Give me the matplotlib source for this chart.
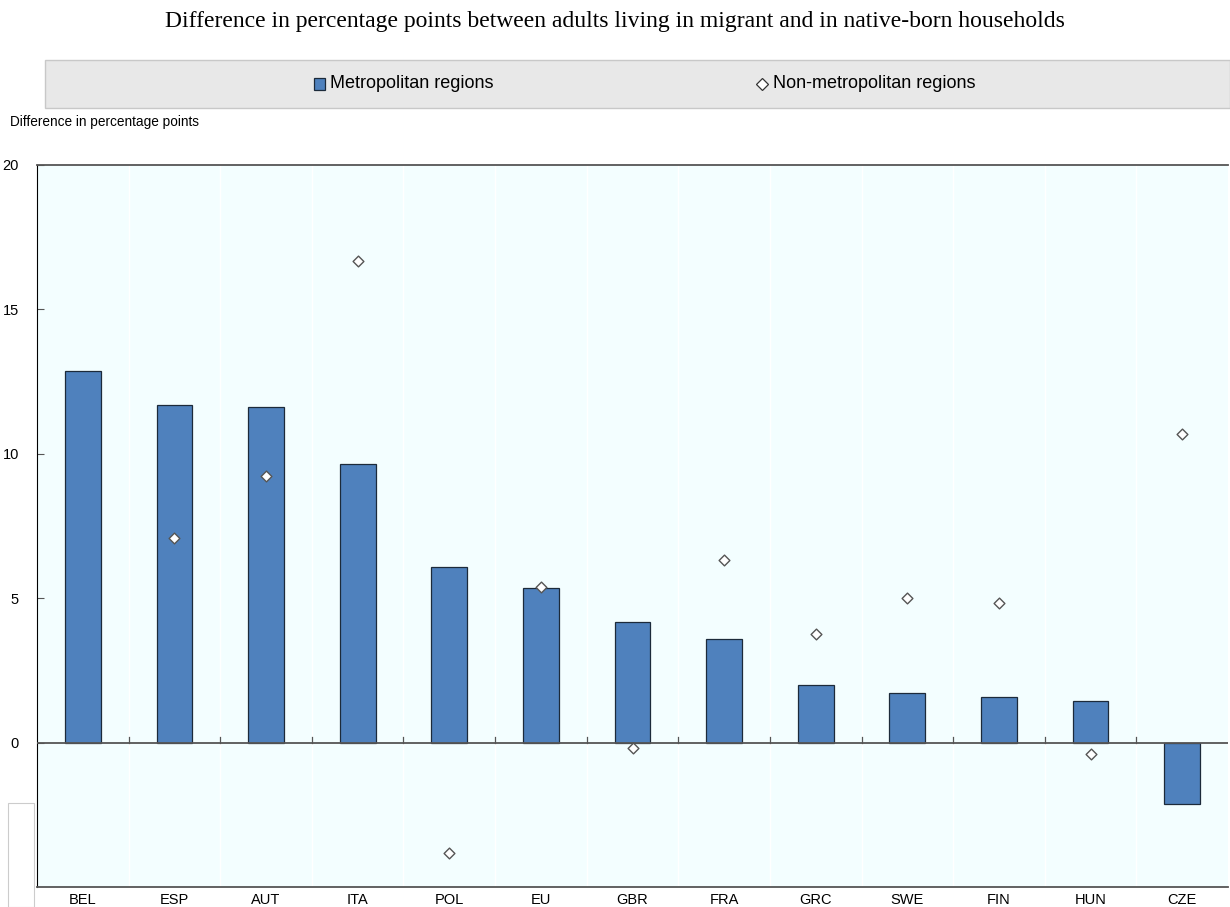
import matplotlib.pyplot as plt
from matplotlib.patches import Rectangle
import numpy as np

countries = ["BEL", "ESP", "AUT", "ITA", "POL", "EU", "GBR", "FRA", "GRC", "SWE", "FIN", "HUN", "CZE"]
metro = [12.87, 11.70, 11.63, 9.65, 6.09, 5.36, 4.19, 3.60, 2.01, 1.73, 1.59, 1.45, -2.11]
non_metro = [np.nan, 7.09, 9.24, 16.68, -3.81, 5.40, -0.17, 6.33, 3.77, 5.02, 4.84, -0.38, 10.69]
yticks = [0, 5, 10, 15, 20]

sans = ["Liberation Sans", "DejaVu Sans"]

fig = plt.figure(figsize=(12.3, 9.07), dpi=100)
ax = fig.add_axes([37 / 1230, 1 - 887 / 907, 1191 / 1230, 722 / 907])
ax.set_facecolor("#f3feff")

x = np.arange(len(countries))
ax.bar(x, metro, width=0.39, color="#4f81bd", edgecolor="#1c2a3a", linewidth=0.9, zorder=3)
ax.scatter(x, non_metro, marker="D", s=30, facecolor="white", edgecolor="#555555",
           linewidth=1.0, zorder=4)

ax.set_xlim(-0.5, len(countries) - 0.5)
ax.set_ylim(-5, 20)

# faint separators between categories
for b in np.arange(0.5, len(countries) - 0.5, 1):
    ax.axvline(b, color="white", linewidth=1.0, zorder=1)
    ax.plot([b, b], [0, 0.2], color="#555555", linewidth=0.9, zorder=5)
ax.axhline(0, color="#555555", linewidth=1.3, zorder=5)

ax.set_xticks(x)
ax.set_xticklabels(countries, family=sans, fontsize=10.5)
ax.tick_params(axis="x", length=0, pad=4)
ax.set_yticks(yticks)
ax.set_yticklabels([str(t) for t in yticks], family=sans, fontsize=10.5)
ax.tick_params(axis="y", direction="in", length=5, color="#555555", pad=13)

ax.spines["left"].set_color("black")
ax.spines["top"].set_color("#555555")
ax.spines["bottom"].set_color("#555555")
ax.spines["top"].set_linewidth(1.3)
ax.spines["bottom"].set_linewidth(1.3)
ax.spines["right"].set_visible(False)

fig.text(0.5, 1 - 22 / 907, "Difference in percentage points between adults living in migrant and in native-born households",
         ha="center", va="center", family=["Liberation Serif", "DejaVu Serif"], fontsize=17)
fig.text(10 / 1230, 1 - 122 / 907, "Difference in percentage points", ha="left", va="center",
         family=sans, fontsize=9.8)

# legend strip
fig.patches.append(Rectangle((45 / 1230, 1 - 108 / 907), 1185 / 1230, 48 / 907, transform=fig.transFigure,
                             facecolor="#e8e8e8", edgecolor="#c8c8c8", linewidth=1.0))
fig.patches.append(Rectangle((314 / 1230, 1 - 90 / 907), 11 / 1230, 12 / 907, transform=fig.transFigure,
                             facecolor="#4f81bd", edgecolor="#1c2a3a", linewidth=0.9))
fig.text(330 / 1230, 1 - 84 / 907, "Metropolitan regions", ha="left", va="center", family=sans, fontsize=13)
fig.lines.append(plt.Line2D([762 / 1230], [1 - 84 / 907], marker="D", markersize=6, markerfacecolor="white",
                            markeredgecolor="#333333", markeredgewidth=0.9, transform=fig.transFigure))
fig.text(773 / 1230, 1 - 84 / 907, "Non-metropolitan regions", ha="left", va="center", family=sans, fontsize=13)

# small empty box at bottom left
fig.patches.append(Rectangle((8 / 1230, 0), 26 / 1230, 104 / 907, transform=fig.transFigure,
                             facecolor="white", edgecolor="#cccccc", linewidth=0.8))

fig.savefig("out.png", dpi=100)
